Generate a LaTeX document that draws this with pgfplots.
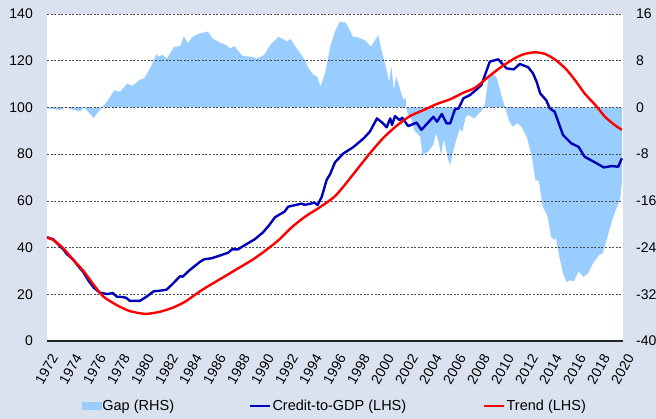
\documentclass[border=0pt]{standalone}
\usepackage{fontspec}
\setmainfont{Liberation Sans}
\usepackage{pgfplots}
\pgfplotsset{compat=1.18}
\definecolor{bgc}{RGB}{218,226,240}
\definecolor{gapc}{RGB}{153,204,255}
\definecolor{credc}{RGB}{0,0,185}
\definecolor{trendc}{RGB}{255,0,0}

\pgfplotstableread{
x y
1972.0 44.4
1972.5 43.6
1973.0 41.0
1973.4 39.0
1973.6 37.5
1974.2 34.7
1974.75 31.1
1975.0 29.7
1975.5 25.5
1975.9 22.8
1976.4 20.7
1977.0 20.1
1977.5 20.5
1977.8 19.0
1978.3 18.8
1978.6 18.5
1978.9 17.2
1979.75 17.2
1980.3 19.0
1980.9 21.3
1981.4 21.5
1981.97 22.0
1982.5 24.6
1983.1 27.8
1983.3 27.5
1983.9 30.4
1984.75 33.9
1985.1 35.0
1985.7 35.4
1986.3 36.4
1987.1 37.8
1987.4 39.2
1987.9 39.2
1988.5 41.1
1989.3 43.5
1990.0 46.5
1990.5 49.5
1991.0 53.0
1991.8 55.4
1992.1 57.5
1993.2 58.8
1993.5 58.3
1994.3 59.2
1994.55 58.2
1994.9 61.8
1995.3 68.9
1995.6 71.5
1996.0 76.5
1996.7 80.3
1997.5 82.9
1998.4 86.8
1998.9 89.6
1999.5 95.3
2000.0 93.2
2000.3 91.5
2000.6 95.3
2000.75 92.5
2001.0 96.3
2001.4 94.5
2001.6 95.6
2002.1 92.0
2002.8 93.5
2003.2 90.4
2004.2 96.0
2004.5 93.9
2004.9 97.2
2005.3 93.2
2005.6 93.2
2006.0 99.2
2006.3 99.6
2006.7 103.9
2007.25 105.3
2007.8 107.7
2008.2 109.6
2008.9 119.6
2009.6 120.6
2010.3 116.7
2010.9 116.3
2011.4 118.6
2012.1 117.2
2012.5 114.6
2012.8 111.0
2013.1 106.0
2013.6 103.1
2013.9 99.6
2014.3 98.2
2015.0 88.2
2015.7 84.6
2016.3 83.1
2016.8 78.9
2017.4 77.2
2017.9 75.8
2018.4 74.3
2019.05 74.9
2019.6 74.6
2019.9 78.2
}\credit

\pgfplotstableread{
x y
1972.0 44.2
1972.5 43.3
1973.3 40.0
1974.2 34.7
1975.0 30.2
1975.9 24.0
1976.7 19.0
1977.8 15.4
1978.9 12.8
1980.2 11.6
1981.4 12.5
1982.5 14.3
1983.5 16.8
1984.9 21.8
1986.3 26.1
1987.7 30.4
1989.1 34.7
1990.2 38.7
1991.3 43.2
1992.4 48.7
1993.5 53.2
1994.6 56.8
1995.4 59.6
1996.0 62.0
1996.7 66.1
1997.8 73.2
1998.9 80.3
2000.0 86.8
2001.1 92.0
2002.25 96.3
2003.4 98.9
2004.5 101.5
2005.6 103.5
2006.7 106.3
2007.7 108.5
2008.8 113.2
2009.9 117.5
2011.0 121.1
2011.8 122.9
2012.7 123.6
2013.5 122.9
2014.3 120.6
2015.2 116.7
2016.0 111.7
2016.8 106.0
2017.7 101.0
2018.5 96.0
2019.3 92.5
2019.9 90.4
}\trend

\pgfplotstableread{
x y
1972.0 -0.15
1972.5 -0.3
1973.1 -0.45
1973.6 0.0
1974.0 -0.3
1974.6 -0.6
1974.75 -0.7
1975.1 0.0
1975.4 -0.7
1975.9 -1.8
1976.3 -0.7
1976.6 0.0
1977.1 1.3
1977.6 2.9
1978.1 2.7
1978.7 4.1
1979.1 3.7
1979.8 4.8
1980.1 5.0
1980.6 6.7
1981.1 9.1
1981.3 8.7
1981.6 9.0
1982.0 8.4
1982.6 10.4
1983.1 10.5
1983.4 12.2
1983.75 11.0
1984.1 12.0
1984.5 12.5
1985.0 12.8
1985.4 13.0
1985.8 11.8
1986.5 11.0
1986.9 10.7
1987.3 10.1
1987.6 10.5
1988.3 8.8
1989.0 8.7
1989.5 8.4
1990.1 9.0
1990.6 10.7
1991.3 12.1
1992.0 11.3
1992.3 11.7
1992.9 9.8
1993.4 8.4
1993.8 6.7
1994.2 5.6
1994.5 5.3
1994.8 3.6
1995.2 6.1
1995.6 10.4
1996.0 13.0
1996.4 14.7
1996.9 14.5
1997.2 13.3
1997.5 12.1
1997.9 12.0
1998.5 11.5
1999.0 10.4
1999.6 12.4
1999.85 10.1
2000.3 6.4
2000.5 4.4
2000.7 7.0
2000.9 3.0
2001.1 5.3
2001.4 3.3
2001.7 1.3
2001.9 1.6
2001.95 -0.15
2002.1 -1.3
2002.4 -2.2
2002.6 -3.9
2003.1 -5.0
2003.3 -8.15
2003.75 -7.6
2004.2 -6.4
2004.4 -4.4
2004.6 -5.6
2004.85 -8.15
2005.0 -6.1
2005.1 -5.6
2005.4 -8.7
2005.6 -9.9
2005.8 -7.9
2006.1 -5.6
2006.4 -3.6
2006.6 -4.2
2006.9 -1.6
2007.1 -1.3
2007.6 -1.9
2008.0 -1.0
2008.25 -0.5
2008.5 0.6
2008.8 5.3
2009.1 6.0
2009.5 5.0
2009.9 1.8
2010.2 -0.15
2010.5 -2.2
2010.8 -3.3
2011.2 -2.7
2011.6 -3.5
2012.0 -5.2
2012.4 -8.4
2012.7 -12.4
2013.0 -12.7
2013.3 -17.0
2013.6 -18.1
2013.75 -19.0
2014.0 -22.2
2014.3 -22.7
2014.4 -22.2
2014.7 -25.6
2015.0 -28.4
2015.3 -29.9
2015.6 -29.6
2015.9 -29.8
2016.3 -28.1
2016.7 -29.0
2017.1 -28.4
2017.5 -26.7
2018.0 -25.3
2018.3 -25.0
2018.7 -22.2
2019.1 -19.3
2019.5 -17.0
2019.75 -15.9
2019.9 -13.0
}\gap

\begin{document}
\begin{tikzpicture}
\useasboundingbox (0,0) rectangle (656pt,419pt);
\fill[bgc] (0,0) rectangle (656pt,419pt);
\pgfplotsset{
  common/.style={
    at={(47pt,78pt)}, anchor=south west, scale only axis,
    width=576pt, height=327pt,
    xmin=1972, xmax=2020,
    /pgf/number format/assume math mode=true,
    /pgf/number format/1000 sep={},
    tick label style={font=\fontsize{14}{16}\selectfont, text=black},
    major tick length=0pt, minor tick length=0pt,
  }
}
\begin{axis}[common,
  axis x line=none, axis y line*=right,
  y axis line style={draw=none},
  ymin=-40, ymax=16, ytick={-40,-32,...,16},
  yticklabel style={anchor=west, inner sep=0pt, xshift=13pt},
  axis background/.style={fill=white},
]
\addplot[fill=gapc, draw=none] table[x=x,y=y] {\gap} \closedcycle;
\end{axis}
\begin{axis}[common,
  axis x line*=bottom, axis y line*=left,
  x axis line style={draw=black!85, line width=1.6pt, -},
  y axis line style={draw=none},
  ymin=0, ymax=140, ytick={0,20,...,140},
  yticklabel style={anchor=east, inner sep=0pt, xshift=-14pt},
  xtick={1972,1974,...,2020},
  xticklabel style={inner sep=0pt, xshift=3pt, yshift=-12pt, rotate=60, anchor=north east},
  ymajorgrids,
  grid style={draw=black!70, line width=0.7pt, dash pattern=on 2pt off 1.6pt},
  legend columns=3,
  legend style={at={(axis description cs:0,0)}, anchor=west, xshift=35pt, yshift=-65pt,
    draw=none, fill=none, inner sep=0pt, outer sep=0pt,
    font=\fontsize{14.5}{16}\selectfont,
    nodes={inner sep=1pt},
    /tikz/column 2/.style={column sep=74pt},
    /tikz/column 4/.style={column sep=76pt}},
]
\addlegendimage{legend image code/.code={\fill[gapc] (0pt,-3.5pt) rectangle (19pt,3.5pt);}}
\addlegendentry{Gap (RHS)}
\addplot[credc, line width=2.4pt, line join=round,
  legend image code/.code={\draw[credc, line width=2.4pt] (0pt,0pt) -- (20pt,0pt);}]
  table[x=x,y=y] {\credit};
\addlegendentry{Credit-to-GDP (LHS)}
\addplot[trendc, line width=2.4pt, smooth, tension=0.4,
  legend image code/.code={\draw[trendc, line width=2.4pt] (0pt,0pt) -- (20pt,0pt);}]
  table[x=x,y=y] {\trend};
\addlegendentry{Trend (LHS)}
\end{axis}
\end{tikzpicture}
\end{document}
